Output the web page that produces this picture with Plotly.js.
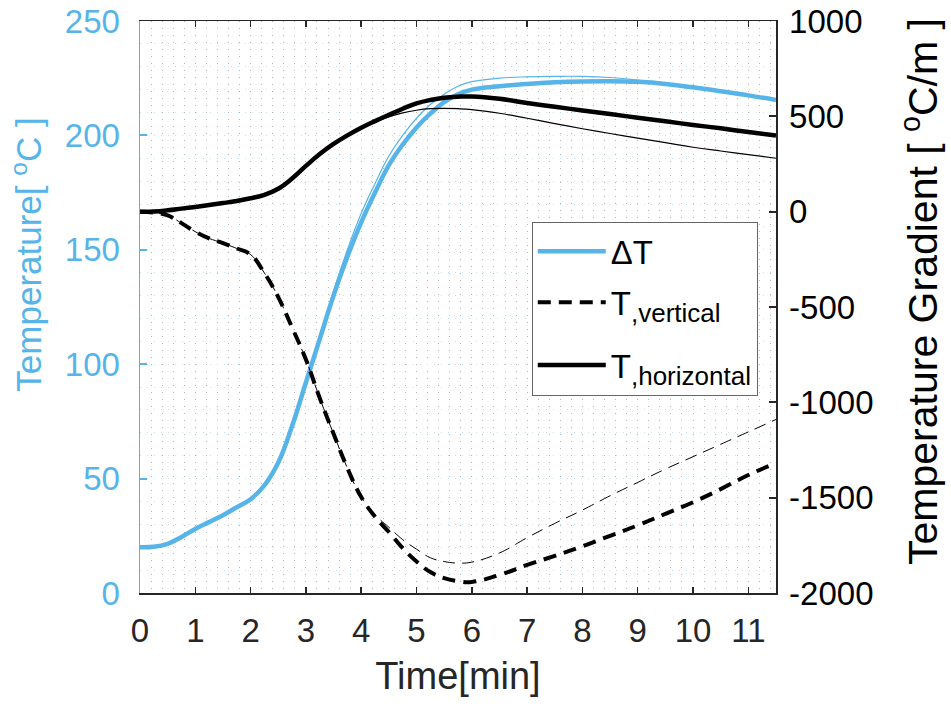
<!DOCTYPE html>
<html>
<head>
<meta charset="utf-8">
<script src="https://cdn.plot.ly/plotly-3.0.1.min.js"></script>
<style>html,body{margin:0;padding:0;background:#fff;}#chart{width:951px;height:706px;}</style>
</head>
<body>
<div id="chart"></div>
<script>
// Time axis (min)
const time = [0,0.25,0.5,0.75,1,1.25,1.5,1.75,2,2.25,2.5,2.75,3,3.25,3.5,3.75,4,4.25,4.5,4.75,5,5.25,5.5,5.75,6,6.5,7,7.5,8,8.5,9,9.5,10,10.5,11,11.5];

// ΔT (°C) – thick and thin curves (left axis)
const deltaT_thick = [20,20.2,21.5,24.5,28,31,34,37.5,41,47,57,73,92,111,130,147,162,175,187,196,203.5,209.5,214.5,218,220,221.5,222.5,223.2,223.6,223.7,223.4,222.5,221,219.3,217.5,215.5];
const deltaT_thin  = [20,20.2,21.5,24.5,28,31,34,37.5,41,47,57,74,93,112,132,150,166,179,191,200,207.5,213.5,218,221.5,223.5,225,225.6,225.8,225.8,225.3,224.2,222.6,221,219.3,217.5,215.5];

// Vertical temperature gradient (°C/m) – right axis
const gradV_thick = [0,-5,-20,-60,-105,-140,-165,-193,-225,-322,-448,-608,-775,-978,-1165,-1345,-1497,-1600,-1680,-1765,-1835,-1890,-1922,-1938,-1942,-1905,-1853,-1805,-1755,-1700,-1645,-1585,-1524,-1455,-1381,-1319];
const gradV_thin  = [0,-5,-20,-60,-105,-140,-165,-193,-225,-322,-448,-608,-775,-978,-1165,-1345,-1497,-1590,-1655,-1720,-1770,-1815,-1835,-1843,-1838,-1790,-1710,-1635,-1565,-1490,-1420,-1350,-1285,-1220,-1155,-1090];

// Horizontal temperature gradient (°C/m) – right axis
const gradH_thick = [0,1,7,16,25,35,45,56,70,88,120,174,240,302,355,400,440,475,508,540,568,586,598,603,604,592,570,550,531,512,493,474,455,437,418,400];
const gradH_thin  = [0,1,7,16,25,35,45,56,70,88,120,174,240,302,355,400,440,470,497,518,532,540,542,540,535,516,490,462,435,410,386,362,338,318,299,280];

// Labels
const legendNames = [
  '\u0394T',
  'T<sub><span style="font-size:26px">,vertical</span></sub>',
  'T<sub><span style="font-size:26px">,horizontal</span></sub>'
];
const xTitle = 'Time[min]';
const yTitle = 'Temperature[ <sup>o</sup>C ]';
const y2Title = 'Temperature Gradient [ <sup>o</sup>C/m ]';
const y2TickVals = [-2000,-1500,-1000,-500,0,500,1000];
const y2TickText = ['-2000','-1500','-1000','-500','0','500','1000'];

const BLUE = '#56B4E9';
const DARK = '#262626';
const FONT = 'Liberation Sans, Arial, sans-serif';
const NARROW = 'Liberation Sans Narrow, Liberation Sans, Arial, sans-serif';
const SM = 1.2;

const traces = [
  {x: time, y: deltaT_thin, yaxis: 'y', mode: 'lines', line: {color: BLUE, width: 1.2, shape: 'spline', smoothing: SM}, showlegend: false, hoverinfo: 'skip'},
  {x: time, y: gradV_thin, yaxis: 'y2', mode: 'lines', line: {color: '#000', width: 1, dash: '12px,7px', shape: 'spline', smoothing: SM}, showlegend: false, hoverinfo: 'skip'},
  {x: time, y: gradH_thin, yaxis: 'y2', mode: 'lines', line: {color: '#000', width: 1.2, shape: 'spline', smoothing: SM}, showlegend: false, hoverinfo: 'skip'},
  {x: time, y: deltaT_thick, yaxis: 'y', mode: 'lines', name: legendNames[0], line: {color: BLUE, width: 4.5, shape: 'spline', smoothing: SM}},
  {x: time, y: gradV_thick, yaxis: 'y2', mode: 'lines', name: legendNames[1], line: {color: '#000', width: 4, dash: '13px,8px', shape: 'spline', smoothing: SM}},
  {x: time, y: gradH_thick, yaxis: 'y2', mode: 'lines', name: legendNames[2], line: {color: '#000', width: 4.5, shape: 'spline', smoothing: SM}}
];

const gridDots = '1px,6px';
const ghostL = '<span style="color:rgba(0,0,0,0)">xxxxxx</span>';
const ghostR = '<span style="color:rgba(0,0,0,0);font-size:31px">xx</span>';

const layout = {
  width: 951, height: 706,
  margin: {l: 140, r: 175, t: 21, b: 113, pad: 0},
  paper_bgcolor: '#fff', plot_bgcolor: '#fff',
  font: {family: FONT, color: DARK},
  showlegend: true,
  legend: {
    x: 0.616, y: 0.648, xanchor: 'left', yanchor: 'top',
    bgcolor: '#fff', bordercolor: '#666', borderwidth: 1,
    font: {family: FONT, size: 33, color: '#000'},
    itemwidth: 68, tracegroupgap: 0
  },
  xaxis: {
    range: [0, 11.5], dtick: 1, tick0: 0,
    ticks: 'inside', ticklen: 6, tickcolor: DARK, tickwidth: 1.5,
    showline: true, linecolor: DARK, linewidth: 1.5, mirror: 'ticks',
    tickfont: {family: NARROW, size: 33, color: DARK},
    ticklabelstandoff: 8,
    title: {text: xTitle, font: {family: FONT, size: 38, color: DARK}, standoff: 14},
    showgrid: true, gridcolor: '#b5b5b5', griddash: gridDots, gridwidth: 1,
    minor: {dtick: 0.2, showgrid: true, gridcolor: '#b5b5b5', griddash: gridDots, gridwidth: 1, ticks: ''},
    zeroline: false
  },
  yaxis: {
    range: [0, 250], dtick: 50, tick0: 0,
    ticks: 'inside', ticklen: 7, tickcolor: BLUE, tickwidth: 2,
    showline: true, linecolor: BLUE, linewidth: 1.5,
    tickfont: {family: FONT, size: 33, color: BLUE},
    ticklabelstandoff: 12,
    title: {text: ghostL + yTitle, font: {family: FONT, size: 35, color: BLUE}, standoff: 12},
    showgrid: true, gridcolor: '#bfe2f5', griddash: gridDots, gridwidth: 1,
    minor: {dtick: 10, showgrid: true, gridcolor: '#bfe2f5', griddash: gridDots, gridwidth: 1, ticks: ''},
    zeroline: false
  },
  yaxis2: {
    overlaying: 'y', side: 'right',
    range: [-2000, 1000], tickmode: 'array', tickvals: y2TickVals, ticktext: y2TickText,
    ticks: 'inside', ticklen: 7, tickcolor: DARK, tickwidth: 2,
    showline: true, linecolor: DARK, linewidth: 1.5,
    tickfont: {family: FONT, size: 33, color: '#000'},
    ticklabelstandoff: 5,
    title: {text: ghostR + y2Title, font: {family: FONT, size: 41, color: '#000'}, standoff: 36},
    showgrid: false, zeroline: false
  }
};

Plotly.newPlot('chart', traces, layout, {displayModeBar: false, staticPlot: true}).then(function () {
  const gd = document.getElementById('chart');
  gd.querySelectorAll('.legend .legendlines path').forEach(function (p) {
    p.setAttribute('d', 'M5,0h68');
  });
  // spread legend rows a little, as in the original figure
  const extra = [0, 5, 22];
  gd.querySelectorAll('.legend .traces').forEach(function (g, i) {
    const t = g.getAttribute('transform') || '';
    const m = t.match(/translate\(\s*([-\d.e]+)[ ,]+([-\d.e]+)\s*\)/);
    if (m && i < extra.length) {
      g.setAttribute('transform', 'translate(' + m[1] + ',' + (parseFloat(m[2]) + extra[i]) + ')');
    }
  });
  const grow = 24;
  gd.querySelectorAll('.legend rect.bg').forEach(function (r) {
    r.setAttribute('height', parseFloat(r.getAttribute('height')) + grow);
  });
  gd.querySelectorAll('defs clipPath[id^="legend"] rect').forEach(function (r) {
    r.setAttribute('height', parseFloat(r.getAttribute('height')) + grow);
  });
});
</script>
</body>
</html>
